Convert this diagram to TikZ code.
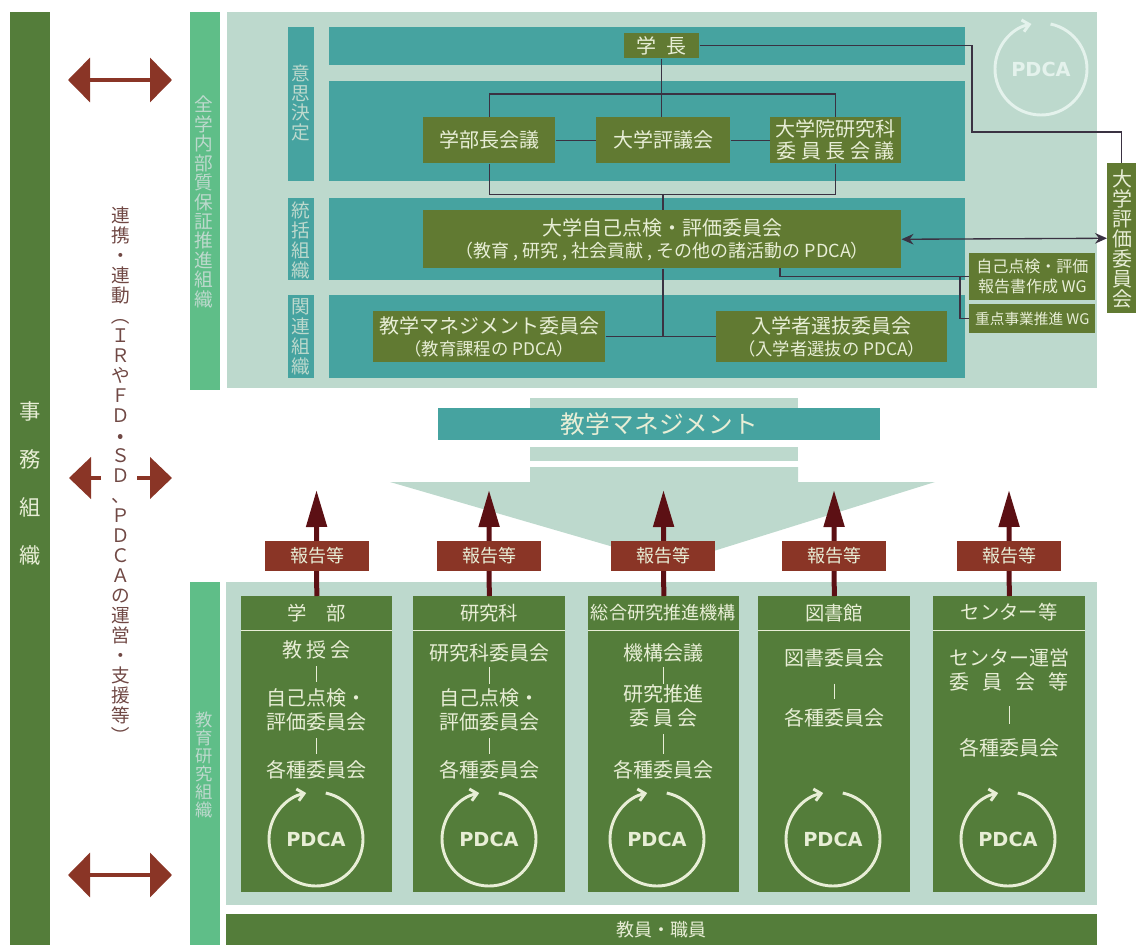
\documentclass[tikz,border=0pt]{standalone}
\usepackage{graphicx}
\usepackage{fontspec}
\setmainfont{Noto Sans CJK JP}
\newfontfamily\pdcafont{DejaVu Sans}[BoldFont={DejaVu Sans Bold}]
\usetikzlibrary{arrows.meta}

\definecolor{staffgreen}{RGB}{84,125,58}
\definecolor{boxolive}{RGB}{97,122,50}
\definecolor{panelpale}{RGB}{189,217,205}
\definecolor{bandteal}{RGB}{70,163,160}
\definecolor{sidegreen}{RGB}{95,190,136}
\definecolor{reportred}{RGB}{138,53,38}
\definecolor{arrowdark}{RGB}{92,16,20}
\definecolor{linkdark}{RGB}{58,50,66}
\definecolor{textpale}{RGB}{232,238,214}
\definecolor{ringpale}{RGB}{228,242,236}
\definecolor{supportbrown}{RGB}{112,72,68}

\tikzset{
  tlbox/.style={anchor=north west,inner sep=0pt,align=center},
  boxsize/.style 2 args={minimum width=#1*0.75pt,minimum height=#2*0.75pt},
  panel/.style={tlbox,fill=panelpale},
  band/.style={tlbox,fill=bandteal},
  sidebar/.style={tlbox,fill=sidegreen},
  orgbox/.style={tlbox,fill=boxolive,text=textpale,font=\fontsize{15}{16.5}\selectfont},
  colbox/.style={tlbox,fill=staffgreen},
  reportbox/.style={inner sep=0pt,fill=reportred,text=textpale,minimum width=78pt,minimum height=22.5pt,font=\fontsize{13.5}{15}\selectfont},
  coltext/.style={inner sep=0pt,align=center,text=textpale,font=\fontsize{15}{18}\selectfont},
  colhead/.style={inner sep=0pt,text=textpale,font=\fontsize{14.5}{16}\selectfont},
  stacktext/.style={inner sep=0pt,align=center,text=textpale,font=\fontsize{14}{14.6}\selectfont},
  link/.style={draw=linkdark,line width=1pt},
  collink/.style={draw=textpale,line width=0.6pt,shorten <=5pt,shorten >=5pt},
  headrule/.style={draw=textpale,line width=0.6pt},
  report/.style={draw=arrowdark,line width=3.75pt,-{Triangle[length=27.75pt,width=15pt]}},
  support/.style={draw=reportred,line width=2.6pt,-{Triangle[length=16.5pt,width=31pt]}},
  ring/.style={draw=textpale,line width=2.2pt,-{Straight Barb[length=5pt,width=9pt]}},
  pdcatext/.style={inner sep=0pt,text=textpale,font=\pdcafont\bfseries\fontsize{14.5}{16}\selectfont},
}

\begin{document}
\begin{tikzpicture}[x=0.75pt,y=0.75pt,yscale=-1,xscale=1]
	\useasboundingbox (0,0) rectangle (1136,945);

	%Shape: staff column
	\node (staffbar) [tlbox,fill=staffgreen,boxsize={40}{933}] at (10,12) {};
	% Text Node
	\node (stafftext) [stacktext,font=\fontsize{16}{36}\selectfont] at (30,483) {事\\務\\組\\織};

	%Shape: upper organisation
	\node (qualitybar) [sidebar,boxsize={30}{378}] at (190,12) {};
	\node (toppanel) [panel,boxsize={870}{376}] at (227,12) {};
	\node (qualitytext) [stacktext,text=panelpale] at (204,202) {全\\学\\内\\部\\質\\保\\証\\推\\進\\組\\織};
	\node (decidetag) [band,boxsize={26}{154}] at (288,27) {};
	\node (unifytag) [band,boxsize={26}{82}] at (288,198) {};
	\node (relatedtag) [band,boxsize={26}{83}] at (288,295) {};
	\node (decidetext) [stacktext,text=panelpale] at (301,103) {意\\思\\決\\定};
	\node (unifytext) [stacktext,text=panelpale,font=\fontsize{14}{15}\selectfont] at (301,240) {統\\括\\組\\織};
	\node (relatedtext) [stacktext,text=panelpale,font=\fontsize{14}{15}\selectfont] at (301,337) {関\\連\\組\\織};
	\node (deanband) [band,boxsize={636}{38}] at (329,27) {};
	\node (councilband) [band,boxsize={636}{100}] at (329,81) {};
	\node (unifyband) [band,boxsize={636}{82}] at (329,198) {};
	\node (relatedband) [band,boxsize={636}{83}] at (329,295) {};

	%Shape: upper boxes
	\node (president) [orgbox,boxsize={75}{25}] at (624,33) {学\hspace{.5em}長};
	\node (deans) [orgbox,boxsize={132}{46}] at (423,117) {学部長会議};
	\node (council) [orgbox,boxsize={134}{46}] at (596,117) {大学評議会};
	\node (gradchairs) [orgbox,boxsize={131}{46}] at (770,117) {大学院研究科\\委 員 長 会 議};
	\node (selfcheck) [orgbox,boxsize={478}{58}] at (423,210) {大学自己点検・評価委員会\\ \fontsize{13.5}{18}\selectfont （教育 , 研究 , 社会貢献 , その他の諸活動の PDCA）};
	\node (teaching) [orgbox,boxsize={232}{51}] at (373,311) {教学マネジメント委員会\\ \fontsize{13}{15}\selectfont （教育課程の PDCA）};
	\node (admission) [orgbox,boxsize={231}{51}] at (716,311) {入学者選抜委員会\\ \fontsize{13}{15}\selectfont （入学者選抜の PDCA）};
	\node (reportwg) [orgbox,boxsize={126}{47},font=\fontsize{12}{15}\selectfont] at (969,253) {自己点検・評価\\報告書作成 WG};
	\node (prioritywg) [orgbox,boxsize={126}{29},font=\fontsize{11}{13}\selectfont] at (969,304) {重点事業推進 WG};
	\node (evaluation) [orgbox,boxsize={29}{150}] at (1107,163) {};
	\node (evaluationtext) [stacktext,font=\fontsize{15}{15}\selectfont] at (1122,239) {大\\学\\評\\価\\委\\員\\会};

	%Straight Lines: upper connectors
	\coordinate (hubtop) at (663,194);
	\coordinate (hubbottom) at (663,336.5);
	\coordinate (evalbend) at (972,132);
	\coordinate (wgtap) at (780,268);
	\coordinate (wgfork) at (960,276.5);
	\draw [link] (president.south) -- (president.south |- council.north);
	\draw [link] (deans.north) -- ++(0,-23) -| (gradchairs.north);
	\draw [link] (deans.east) -- (council.west);
	\draw [link] (council.east) -- (gradchairs.west);
	\draw [link] (deans.south) -- ++(0,31) -| (gradchairs.south);
	\draw [link] (hubtop) -- (hubtop |- selfcheck.north);
	\draw [link] (hubtop |- selfcheck.south) -- (hubbottom);
	\draw [link] (teaching.east) -- (admission.west);
	\draw [link] (president.east) -| (evalbend) -| (evaluation.north);
	\draw [link,{Stealth[length=9pt,width=8pt]}-{Stealth[length=9pt,width=8pt]}] (selfcheck.east) -- (evaluation.west);
	\draw [link] (wgtap) |- (reportwg.west);
	\draw [link] (wgfork) |- (prioritywg.west);

	%Shape: upper cycle
	\node (pdcatop) [pdcatext,text=ringpale] at (1041,69) {PDCA};
	\draw [ring,draw=ringpale] (pdcatop.center) ++(-78:46) arc[start angle=-78,end angle=258,radius=46];

	%Shape: large pale arrow
	\fill [panelpale] (530,467) -- (798,467) -- (798,482) -- (935,482) -- (672,564) -- (390,482) -- (530,482) -- cycle;
	\node (stripetop) [panel,boxsize={268}{10}] at (530,398) {};
	\node (stripemid) [panel,boxsize={268}{14}] at (530,447) {};
	\node (mgmtband) [band,boxsize={442}{32},text=textpale,font=\fontsize{18.5}{20}\selectfont] at (438,408) {教学マネジメント};

	%Shape: lower organisation
	\node (researchbar) [sidebar,boxsize={30}{363}] at (190,582) {};
	\node (lowerpanel) [panel,boxsize={871}{323}] at (226,582) {};
	\node (researchtext) [stacktext,text=panelpale,font=\fontsize{13}{13.5}\selectfont] at (204,765) {教\\育\\研\\究\\組\\織};
	\node (staffband) [colbox,boxsize={871}{31},text=textpale,font=\fontsize{13.5}{15}\selectfont] at (226,914) {教員・職員};
	\node (col1) [colbox,boxsize={151}{296}] at (241,596) {};
	\node (col2) [colbox,boxsize={152}{296}] at (413,596) {};
	\node (col3) [colbox,boxsize={151}{296}] at (588,596) {};
	\node (col4) [colbox,boxsize={152}{296}] at (758,596) {};
	\node (col5) [colbox,boxsize={152}{296}] at (933,596) {};
	\draw [headrule] (241,630) -- (392,630);
	\draw [headrule] (413,630) -- (565,630);
	\draw [headrule] (588,630) -- (739,630);
	\draw [headrule] (758,630) -- (910,630);
	\draw [headrule] (933,630) -- (1085,630);

	%Straight Lines: report arrows
	\coordinate (tip1) at (316.5,490);
	\coordinate (tip2) at (489,490);
	\coordinate (tip3) at (663.5,490);
	\coordinate (tip4) at (834,490);
	\coordinate (tip5) at (1009,490);
	\draw [report] (col1.north) -- (tip1);
	\draw [report] (col2.north) -- (tip2);
	\draw [report] (col3.north) -- (tip3);
	\draw [report] (col4.north) -- (tip4);
	\draw [report] (col5.north) -- (tip5);
	\node (report1) [reportbox] at (317,556) {報告等};
	\node (report2) [reportbox] at (489,556) {報告等};
	\node (report3) [reportbox] at (663,556) {報告等};
	\node (report4) [reportbox] at (834,556) {報告等};
	\node (report5) [reportbox] at (1009,556) {報告等};

	% Text Node: column 1
	\node (hd1) [colhead] at (316.5,613) {学　部};
	\node (c1a) [coltext] at (316.5,650) {教 授 会};
	\node (c1b) [coltext] at (316.5,710) {自己点検・\\評価委員会};
	\node (c1c) [coltext] at (316.5,770) {各種委員会};
	\draw [collink] (c1a) -- (c1b);
	\draw [collink] (c1b) -- (c1c);
	\node (pdca1) [pdcatext] at (316,839) {PDCA};
	\draw [ring] (pdca1.center) ++(-78:47) arc[start angle=-78,end angle=258,radius=47];

	% Text Node: column 2
	\node (hd2) [colhead] at (489,613) {研究科};
	\node (c2a) [coltext] at (489,653) {研究科委員会};
	\node (c2b) [coltext] at (489,710) {自己点検・\\評価委員会};
	\node (c2c) [coltext] at (489,770) {各種委員会};
	\draw [collink,shorten <=3.5pt,shorten >=3pt] (c2a) -- (c2b);
	\draw [collink] (c2b) -- (c2c);
	\node (pdca2) [pdcatext] at (489,839) {PDCA};
	\draw [ring] (pdca2.center) ++(-78:47) arc[start angle=-78,end angle=258,radius=47];

	% Text Node: column 3
	\node (hd3) [colhead,font=\fontsize{13.6}{16}\selectfont] at (663.5,613) {総合研究推進機構};
	\node (c3a) [coltext] at (663.5,653) {機構会議};
	\node (c3b) [coltext] at (663.5,706) {研究推進\\委 員 会};
	\node (c3c) [coltext] at (663.5,770) {各種委員会};
	\draw [collink,shorten <=3.5pt,shorten >=0.5pt] (c3a) -- (c3b);
	\draw [collink] (c3b) -- (c3c);
	\node (pdca3) [pdcatext] at (657,839) {PDCA};
	\draw [ring] (pdca3.center) ++(-78:47) arc[start angle=-78,end angle=258,radius=47];

	% Text Node: column 4
	\node (hd4) [colhead] at (834,613) {図書館};
	\node (c4a) [coltext] at (834,658) {図書委員会};
	\node (c4b) [coltext] at (834,718) {各種委員会};
	\draw [collink,shorten <=12pt,shorten >=7pt] (c4a) -- (c4b);
	\node (pdca4) [pdcatext] at (833,839) {PDCA};
	\draw [ring] (pdca4.center) ++(-78:47) arc[start angle=-78,end angle=258,radius=47];

	% Text Node: column 5
	\node (hd5) [colhead] at (1009,612) {センター等};
	\node (c5a) [coltext] at (1009,670) {センター運営\\委\hspace{.65em}員\hspace{.65em}会\hspace{.65em}等};
	\node (c5b) [coltext] at (1009,748) {各種委員会};
	\draw [collink,shorten <=11pt,shorten >=11pt] (c5a) -- (c5b);
	\node (pdca5) [pdcatext] at (1008,839) {PDCA};
	\draw [ring] (pdca5.center) ++(-78:47) arc[start angle=-78,end angle=258,radius=47];

	%Shape: cooperation text and arrows
	\node (cooptext) [stacktext,text=supportbrown,font=\fontsize{14}{15}\selectfont] at (121,476) {連\\携\\・\\連\\動\\\rotatebox[origin=c]{-90}{（}\\Ｉ\\Ｒ\\や\\Ｆ\\Ｄ\\•\\Ｓ\\Ｄ\\、\\Ｐ\\Ｄ\\Ｃ\\Ａ\\の\\運\\営\\・\\支\\援\\等\\\rotatebox[origin=c]{-90}{）}};
	\coordinate (topleft) at (68,80);
	\coordinate (topright) at (172,80);
	\coordinate (midleft) at (69,478);
	\coordinate (midleftin) at (101,478);
	\coordinate (midright) at (172,478);
	\coordinate (midrightin) at (137,478);
	\coordinate (lowleft) at (68,875);
	\coordinate (lowright) at (172,875);
	\draw [support,{Triangle[length=16.5pt,width=33pt]}-{Triangle[length=16.5pt,width=33pt]}] (topleft) -- (topright);
	\draw [support] (midleftin) -- (midleft);
	\draw [support] (midrightin) -- (midright);
	\draw [support,{Triangle[length=16.5pt,width=33pt]}-{Triangle[length=16.5pt,width=33pt]}] (lowleft) -- (lowright);
\end{tikzpicture}
\end{document}
